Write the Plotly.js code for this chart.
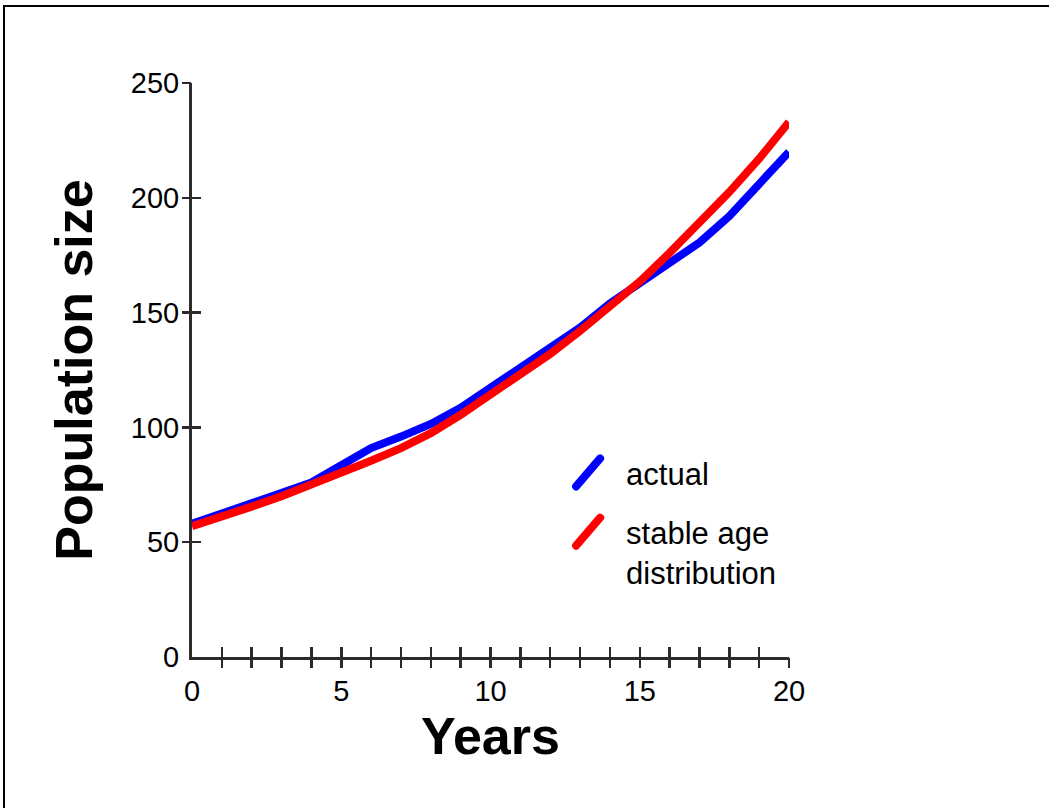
<!DOCTYPE html>
<html>
<head>
<meta charset="utf-8">
<script src="https://cdn.plot.ly/plotly-3.0.1.min.js"></script>
<style>
  html, body { margin: 0; padding: 0; background: #fff; overflow: hidden; }
  #chart { width: 1049px; height: 808px; }
  #frame { position: absolute; left: 3px; top: 5px; width: 1200px; height: 1000px;
           border-top: 2px solid #000; border-left: 2px solid #000; pointer-events: none; }
</style>
</head>
<body>
<div id="chart"></div>
<div id="frame"></div>
<script>
// ---- data ----
const years = [0,1,2,3,4,5,6,7,8,9,10,11,12,13,14,15,16,17,18,19,20];
const actual = [58,62.5,67,71.5,76,83.5,91,96,101.5,108.5,117,125.5,134,143.5,154,162.5,172,180.5,192,205.5,220];
const stable = [57,61,65.5,70,75,80.5,85.5,91,97.5,105.5,114,122.5,132,142,152.5,163.5,176,189,202.5,217,233];
const seriesNames = ["actual", "stable age<br>distribution"];
const xLabelVals = [0,5,10,15,20];
const xMinorTicks = [1,2,3,4,5,6,7,8,9,10,11,12,13,14,15,16,17,18,19,20];
const yLabelVals = [0,50,100,150,200,250];
const yTicks = [50,100,150,200,250];

const FONT = "Arial, 'Liberation Sans', sans-serif";
const AXC = "#2b2b2b";

const traces = [
  { x: years, y: actual, mode: "lines", name: seriesNames[0], legendgroup: "g1",
    line: { color: "#0000ff", width: 8 }, hoverinfo: "x+y" },
  { x: years, y: stable, mode: "lines", name: seriesNames[1], legendgroup: "g2",
    line: { color: "#ff0000", width: 8 }, hoverinfo: "x+y" },
  { x: [null], y: [null], xaxis: "x2", yaxis: "y2", showlegend: false, hoverinfo: "skip", mode: "lines" },
  { x: [null], y: [null], xaxis: "x3", yaxis: "y3", showlegend: false, hoverinfo: "skip", mode: "lines" }
];

const baseX = { range: [0, 20], showgrid: false, zeroline: false, fixedrange: true };
const baseY = { range: [0, 250], showgrid: false, zeroline: false, fixedrange: true };

const layout = {
  width: 1049, height: 808,
  margin: { l: 192, r: 260, t: 83, b: 151 },
  paper_bgcolor: "#fff", plot_bgcolor: "#fff",
  font: { family: FONT, color: "#000" },
  showlegend: true,
  legend: {
    x: 0.63, y: 0.368, xanchor: "left", yanchor: "top",
    font: { family: FONT, size: 31, color: "#000" },
    bgcolor: "rgba(0,0,0,0)", borderwidth: 0,
    tracegroupgap: 16, valign: "top", itemwidth: 48, traceorder: "grouped"
  },
  xaxis: Object.assign({}, baseX, {
    showline: true, linecolor: AXC, linewidth: 3,
    tickmode: "array", tickvals: xLabelVals, ticktext: xLabelVals.map(String),
    ticks: "", ticklabelstandoff: 6,
    tickfont: { family: FONT, size: 29, color: "#000" },
    title: { text: "<b>Years</b>", font: { family: FONT, size: 52, color: "#000" }, standoff: 0 }
  }),
  yaxis: Object.assign({}, baseY, {
    showline: true, linecolor: AXC, linewidth: 3,
    tickmode: "array", tickvals: yLabelVals, ticktext: yLabelVals.map(String),
    ticks: "", ticklabelstandoff: 4,
    tickfont: { family: FONT, size: 29, color: "#000" },
    title: { text: "<b>Population size</b>", font: { family: FONT, size: 52, color: "#000" }, standoff: 22 }
  }),
  xaxis2: Object.assign({}, baseX, { overlaying: "x", anchor: "y2", side: "bottom",
    tickmode: "array", tickvals: xMinorTicks, ticks: "outside", ticklen: 10, tickwidth: 2.5,
    tickcolor: AXC, showticklabels: false, showline: false }),
  yaxis2: Object.assign({}, baseY, { overlaying: "y", anchor: "x2", side: "left",
    tickmode: "array", tickvals: yTicks, ticks: "outside", ticklen: 9, tickwidth: 2.5,
    tickcolor: AXC, showticklabels: false, showline: false }),
  xaxis3: Object.assign({}, baseX, { overlaying: "x", anchor: "y3", side: "bottom",
    tickmode: "array", tickvals: xMinorTicks, ticks: "inside", ticklen: 10, tickwidth: 2.5,
    tickcolor: AXC, showticklabels: false, showline: false }),
  yaxis3: Object.assign({}, baseY, { overlaying: "y", anchor: "x3", side: "left",
    tickmode: "array", tickvals: yTicks, ticks: "inside", ticklen: 9, tickwidth: 2.5,
    tickcolor: AXC, showticklabels: false, showline: false })
};

Plotly.newPlot("chart", traces, layout, { staticPlot: true, displayModeBar: false }).then(function () {
  // draw legend glyphs as short diagonal strokes like the reference
  document.querySelectorAll(".legend .legendlines path").forEach(function (p) {
    p.setAttribute("d", "M8,14L32,-14");
    p.style.strokeLinecap = "round";
  });
});
</script>
</body>
</html>
